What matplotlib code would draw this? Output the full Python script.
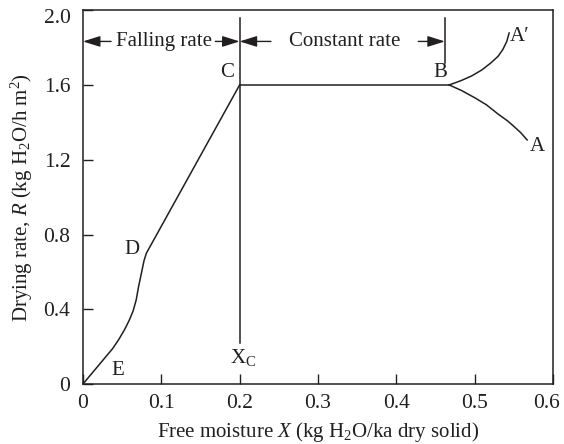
"""
干燥速率曲线：恒速段与降速段
"""
import matplotlib
matplotlib.use("Agg")
import matplotlib.pyplot as plt
from matplotlib.transforms import ScaledTranslation

plt.rcParams["font.family"] = "Liberation Serif"
plt.rcParams["mathtext.fontset"] = "custom"
plt.rcParams["mathtext.rm"] = "Liberation Serif"
plt.rcParams["mathtext.it"] = "Liberation Serif:italic"
plt.rcParams["font.size"] = 15

INK = "#231f20"

# 降速段 E-D-C
falling_x = [0, 0.020, 0.038, 0.046, 0.053, 0.059, 0.064, 0.068, 0.071, 0.075, 0.078, 0.081, 0.2]
falling_r = [0, 0.10, 0.19, 0.24, 0.29, 0.34, 0.39, 0.45, 0.52, 0.60, 0.66, 0.70, 1.6]

# 恒速段 C-B
constant_x = [0.2, 0.4675]
constant_r = [1.6, 1.6]

# 预热段 B-A' 和 B-A
up_x = [0.4675, 0.483, 0.496, 0.509, 0.521, 0.530, 0.536, 0.541, 0.544]
up_r = [1.6, 1.624, 1.648, 1.68, 1.719, 1.754, 1.79, 1.833, 1.878]
down_x = [0.4675, 0.483, 0.5004, 0.515, 0.530, 0.542, 0.551, 0.559, 0.567]
down_r = [1.6, 1.571, 1.531, 1.494, 1.444, 1.408, 1.375, 1.344, 1.306]

# 临界含水量与恒速段终点
x_c = 0.2
x_b = 0.462

x_ticks = [0, 0.1, 0.2, 0.3, 0.4, 0.5, 0.6]
x_ticklabels = ["0", "0.1", "0.2", "0.3", "0.4", "0.5", "0.6"]
y_ticks = [0, 0.4, 0.8, 1.2, 1.6, 2.0]
y_ticklabels = ["0", "0.4", "0.8", "1.2", "1.6", "2.0"]

fig = plt.figure(figsize=(5.64, 4.44), dpi=100)
ax = fig.add_axes((0.147, 0.135, 0.8335, 0.842))

lw = 1.1
ax.plot(falling_x, falling_r, color=INK, lw=lw)
ax.plot(constant_x, constant_r, color=INK, lw=lw)
ax.plot(up_x, up_r, color=INK, lw=lw)
ax.plot(down_x, down_r, color=INK, lw=lw)

# 竖直分隔线
ax.plot([x_c, x_c], [0.22, 1.96], color=INK, lw=lw)
ax.plot([x_b, x_b], [1.72, 1.96], color=INK, lw=lw)

# 区段箭头
arrow_y = 1.833
aprops = dict(arrowstyle="-|>,head_length=0.7,head_width=0.22", color=INK, lw=1.0,
              shrinkA=0, shrinkB=0)
ax.annotate("", xy=(0, arrow_y), xytext=(0.036, arrow_y), arrowprops=aprops)
ax.annotate("", xy=(x_c, arrow_y), xytext=(0.169, arrow_y), arrowprops=aprops)
ax.annotate("", xy=(x_c, arrow_y), xytext=(0.24, arrow_y), arrowprops=aprops)
ax.annotate("", xy=(x_b, arrow_y), xytext=(0.428, arrow_y), arrowprops=aprops)
ax.text(0.103, arrow_y, "Falling rate", ha="center", va="center", color=INK)
ax.text(0.334, arrow_y, "Constant rate", ha="center", va="center", color=INK)

# 点标记
ax.text(0.193, 1.615, "C", ha="right", va="bottom", color=INK)
ax.text(0.456, 1.615, "B", ha="center", va="bottom", color=INK)
ax.text(0.545, 1.86, "A\u2032", ha="left", va="center", color=INK)
ax.text(0.57, 1.27, "A", ha="left", va="center", color=INK)
ax.text(0.062, 0.72, "D", ha="center", va="center", color=INK)
ax.text(0.044, 0.07, "E", ha="center", va="center", color=INK)
ax.text(x_c + 0.004, 0.14, "X$_\\mathrm{C}$", ha="center", va="center", color=INK)

ax.set_xlim(0, 0.6)
ax.set_ylim(0, 2.0)
ax.set_xticks(x_ticks)
ax.set_xticklabels(x_ticklabels)
ax.set_yticks(y_ticks)
ax.set_yticklabels(y_ticklabels)
ax.tick_params(direction="in", length=7, width=1.0, colors=INK, labelsize=15.5, pad=7)
ax.tick_params(axis="y", pad=9)
for s in ax.spines.values():
    s.set_color(INK)
    s.set_linewidth(1.1)

# 边角刻度标签向内挪一点，避免贴边
last_x = ax.get_xticklabels()[-1]
last_x.set_transform(last_x.get_transform() + ScaledTranslation(-5 / 72, 0, fig.dpi_scale_trans))
top_y = ax.get_yticklabels()[-1]
top_y.set_transform(top_y.get_transform() + ScaledTranslation(0, -4 / 72, fig.dpi_scale_trans))

ax.set_xlabel("Free moisture $X$ (kg H$_2$O/ka dry solid)", color=INK, fontsize=15, labelpad=5)
ax.set_ylabel("Drying rate, $R$ (kg H$_2$O/h m$^2$)", color=INK, fontsize=15, labelpad=6)

fig.savefig("out.png", dpi=100)
